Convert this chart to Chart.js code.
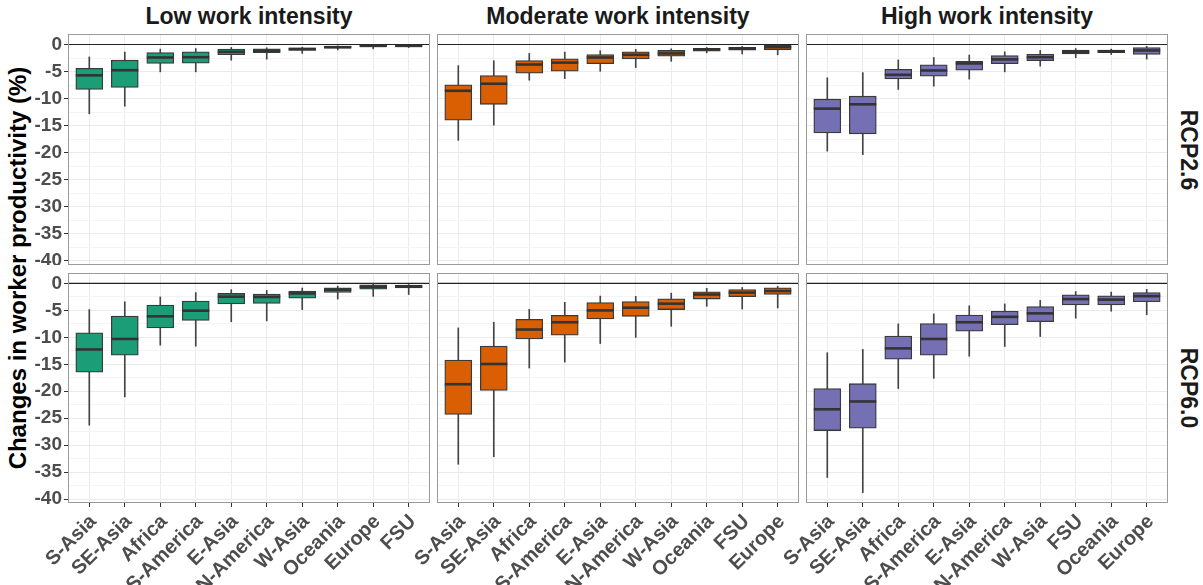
<!DOCTYPE html>
<html>
<head>
<meta charset="utf-8">
<script src="https://cdn.jsdelivr.net/npm/chart.js@4.4.1/dist/chart.umd.min.js"></script>
<style>
  body { margin: 0; background: #fff; width: 1203px; height: 585px; position: relative; overflow: hidden; font-family: "Liberation Sans", Arial, sans-serif; }
  canvas { position: absolute; }
  .lbl { position: absolute; font-weight: bold; white-space: nowrap; color: #1a1a1a; }
</style>
</head>
<body>
<div class="lbl" style="left:249px; top:5px; font-size:23px; line-height:22px; transform:translateX(-50%);">Low work intensity</div>
<div class="lbl" style="left:618px; top:5px; font-size:23px; line-height:22px; transform:translateX(-50%);">Moderate work intensity</div>
<div class="lbl" style="left:987px; top:5px; font-size:23px; line-height:22px; transform:translateX(-50%);">High work intensity</div>
<div class="lbl" style="left:1188px; top:150px; font-size:23px; line-height:23px; transform:translate(-50%,-50%) rotate(90deg);">RCP2.6</div>
<div class="lbl" style="left:1188px; top:388px; font-size:23px; line-height:23px; transform:translate(-50%,-50%) rotate(90deg);">RCP6.0</div>
<div class="lbl" style="left:18px; top:268px; font-size:24px; line-height:24px; color:#000; transform:translate(-50%,-50%) rotate(-90deg);">Changes in worker productivity (%)</div>

<!-- every canvas keeps a 68px left margin, so the panel starts 68px into it -->
<canvas id="c1" width="430" height="231" style="left:0; top:34px;"></canvas>
<canvas id="c2" width="430" height="231" style="left:369px; top:34px;"></canvas>
<canvas id="c3" width="430" height="231" style="left:738px; top:34px;"></canvas>
<canvas id="c4" width="430" height="312" style="left:0; top:273px;"></canvas>
<canvas id="c5" width="430" height="312" style="left:369px; top:273px;"></canvas>
<canvas id="c6" width="430" height="312" style="left:738px; top:273px;"></canvas>

<script>
// region order per work intensity (x axis)
const catsLow = ['S-Asia', 'SE-Asia', 'Africa', 'S-America', 'E-Asia', 'N-America', 'W-Asia', 'Oceania', 'Europe', 'FSU'];
const catsMod = ['S-Asia', 'SE-Asia', 'Africa', 'S-America', 'E-Asia', 'N-America', 'W-Asia', 'Oceania', 'FSU', 'Europe'];
const catsHigh = ['S-Asia', 'SE-Asia', 'Africa', 'S-America', 'E-Asia', 'N-America', 'W-Asia', 'FSU', 'Oceania', 'Europe'];

// box stats per region: [lower whisker, Q1, median, Q3, upper whisker]
const lowRcp26 = [
  [-12.8, -8.3, -5.7, -4.4, -2.3], [-11.4, -7.95, -4.75, -2.9, -1.4], [-5.05, -3.5, -2.4, -1.5, -0.85],
  [-5.05, -3.45, -2.35, -1.35, -0.75], [-2.9, -1.9, -1.35, -0.85, -0.55], [-2.7, -1.5, -1.15, -0.8, -0.6],
  [-1.65, -1.1, -0.85, -0.6, -0.5], [-1.0, -0.7, -0.5, -0.35, -0.25], [-0.8, -0.35, -0.25, -0.12, -0.05],
  [-0.55, -0.35, -0.25, -0.18, -0.12]
];
const modRcp26 = [
  [-17.7, -14.0, -8.55, -7.45, -3.9], [-14.9, -11.05, -7.25, -5.75, -3.0], [-6.6, -5.3, -3.7, -2.95, -1.65],
  [-6.3, -4.95, -3.35, -2.65, -1.4], [-4.95, -3.55, -2.4, -1.85, -1.15], [-4.25, -2.65, -1.9, -1.35, -0.9],
  [-3.1, -2.15, -1.65, -1.1, -0.8], [-1.55, -1.25, -0.9, -0.7, -0.55], [-1.75, -1.05, -0.75, -0.5, -0.35],
  [-1.9, -1.0, -0.5, -0.12, -0.05]
];
const highRcp26 = [
  [-19.7, -16.35, -11.85, -10.1, -6.15], [-20.35, -16.5, -11.05, -9.55, -5.2], [-8.3, -6.35, -5.6, -4.6, -2.85],
  [-7.7, -5.85, -4.8, -3.75, -2.4], [-6.4, -4.75, -3.5, -3.1, -1.95], [-5.05, -3.55, -2.75, -2.05, -1.35],
  [-4.0, -3.0, -2.35, -1.8, -1.1], [-2.45, -1.75, -1.35, -1.05, -0.75], [-1.85, -1.5, -1.25, -1.05, -0.85],
  [-2.7, -1.85, -1.1, -0.55, -0.35]
];
const lowRcp60 = [
  [-26.3, -16.45, -12.25, -9.15, -4.85], [-21.05, -13.3, -10.3, -6.05, -3.4], [-11.45, -8.25, -6.1, -4.0, -2.5],
  [-11.65, -6.85, -5.05, -3.25, -1.7], [-7.1, -3.8, -2.45, -1.85, -1.15], [-6.95, -3.7, -2.5, -1.95, -1.3],
  [-4.85, -2.75, -1.85, -1.4, -0.85], [-2.9, -1.65, -1.15, -0.8, -0.5], [-2.4, -1.05, -0.6, -0.25, -0.1],
  [-2.05, -0.85, -0.55, -0.3, -0.2]
];
const modRcp60 = [
  [-33.55, -24.3, -18.7, -14.2, -8.25], [-32.15, -19.85, -14.95, -11.6, -7.2], [-15.7, -10.3, -8.55, -6.65, -4.8],
  [-14.6, -9.6, -7.2, -5.9, -3.5], [-11.15, -6.6, -5.0, -3.55, -2.35], [-10.0, -6.1, -4.5, -3.35, -2.4],
  [-7.95, -4.85, -3.75, -2.85, -1.8], [-4.25, -2.9, -2.05, -1.55, -0.9], [-4.75, -2.45, -1.7, -1.15, -0.75],
  [-4.55, -2.05, -1.4, -0.8, -0.55]
];
const highRcp60 = [
  [-36.0, -27.3, -23.35, -19.5, -12.85], [-38.8, -26.85, -21.9, -18.6, -12.25], [-19.5, -14.05, -12.05, -9.75, -7.5],
  [-17.6, -13.3, -10.3, -7.45, -5.65], [-13.5, -8.85, -7.2, -5.85, -4.15], [-11.7, -7.65, -6.2, -5.15, -3.8],
  [-9.85, -7.1, -5.55, -4.3, -3.15], [-6.45, -4.0, -2.9, -2.1, -1.5], [-5.15, -4.0, -3.0, -2.3, -1.6],
  [-5.8, -3.4, -2.35, -1.7, -1.1]
];

const yMin = -40.74, yMax = 1.94;
const yFont = { family: '"Liberation Sans", Arial, sans-serif', size: 19, weight: 'bold' };
const xFont = { family: '"Liberation Sans", Arial, sans-serif', size: 20, weight: 'bold' };

// --- panel frame (theme_bw border) ---
const panelFrame = {
  id: 'panelFrame',
  afterDraw(chart) {
    const { ctx, chartArea: a } = chart;
    ctx.save();
    ctx.strokeStyle = '#9a9a9a';
    ctx.lineWidth = 1;
    ctx.strokeRect(a.left + 0.5, a.top + 0.5, a.width - 1, a.height - 1);
    ctx.restore();
  }
};

// fixed axis sizes so the panels line up like facets
function fixSize(s, w, h) {
  if (w !== null) s.width = w;
  if (h !== null) s.height = h;
  s.paddingLeft = s.paddingRight = s.paddingTop = s.paddingBottom = 0;
}

function makePanel(id, cats, stats, fill, showY, showX) {
  const xs = cats.map((c, i) => i + 1);
  const isMajor = v => Math.abs(v % 5) < 1e-9;
  new Chart(document.getElementById(id), {
    type: 'bar',
    data: {
      datasets: [
        { type: 'line', order: 0, data: xs.map((x, i) => ({ x, y: stats[i][2] })), showLine: false,
          pointStyle: 'line', pointRadius: 13.5, pointHoverRadius: 13.5, pointBorderColor: '#333', pointBorderWidth: 2.6 },
        { type: 'bar', order: 1, data: xs.map((x, i) => ({ x, y: [stats[i][1], stats[i][3]] })), grouped: false,
          barThickness: 27, backgroundColor: fill, borderColor: '#3a3a3a', borderWidth: 1.3, borderSkipped: false },
        { type: 'bar', order: 2, data: xs.map((x, i) => ({ x, y: [stats[i][0], stats[i][4]] })), grouped: false,
          barThickness: 1, backgroundColor: '#444', borderWidth: 0 },
        { type: 'line', order: 3, data: [{ x: 0.4, y: 0 }, { x: 10.6, y: 0 }], borderColor: '#222', borderWidth: 1.2, pointRadius: 0 }
      ]
    },
    options: {
      responsive: false, animation: false, events: [],
      layout: { padding: 0, autoPadding: false },
      plugins: { legend: { display: false }, tooltip: { enabled: false } },
      scales: {
        x: {
          type: 'linear', min: 0.4, max: 10.6, offset: false,
          afterBuildTicks: s => { s.ticks = xs.map(v => ({ value: v })); },
          afterFit: s => fixSize(s, null, showX ? 82 : 0),
          ticks: { display: showX, autoSkip: false, minRotation: 45, maxRotation: 45, padding: 3, labelOffset: 4,
                   color: '#4d4d4d', font: xFont, callback: v => cats[v - 1] },
          grid: { offset: false, color: '#ebebeb', drawTicks: showX, tickLength: 4, tickColor: '#333' },
          border: { display: false }
        },
        y: {
          min: yMin, max: yMax,
          afterFit: s => fixSize(s, 68, null),
          ticks: { display: showY, stepSize: 2.5, includeBounds: false, autoSkip: false, padding: 2,
                   color: '#4d4d4d', font: yFont, callback: v => isMajor(v) ? String(v) : '' },
          grid: { color: c => isMajor(c.tick.value) ? '#ebebeb' : '#f4f4f4',
                  drawTicks: showY, tickLength: 4,
                  tickColor: c => isMajor(c.tick.value) ? '#333' : 'rgba(0,0,0,0)' },
          border: { display: false }
        }
      }
    },
    plugins: [panelFrame]
  });
}

makePanel('c1', catsLow, lowRcp26, '#1b9e77', true, false);
makePanel('c2', catsMod, modRcp26, '#d95f02', false, false);
makePanel('c3', catsHigh, highRcp26, '#7570b3', false, false);
makePanel('c4', catsLow, lowRcp60, '#1b9e77', true, true);
makePanel('c5', catsMod, modRcp60, '#d95f02', false, true);
makePanel('c6', catsHigh, highRcp60, '#7570b3', false, true);
</script>
</body>
</html>
